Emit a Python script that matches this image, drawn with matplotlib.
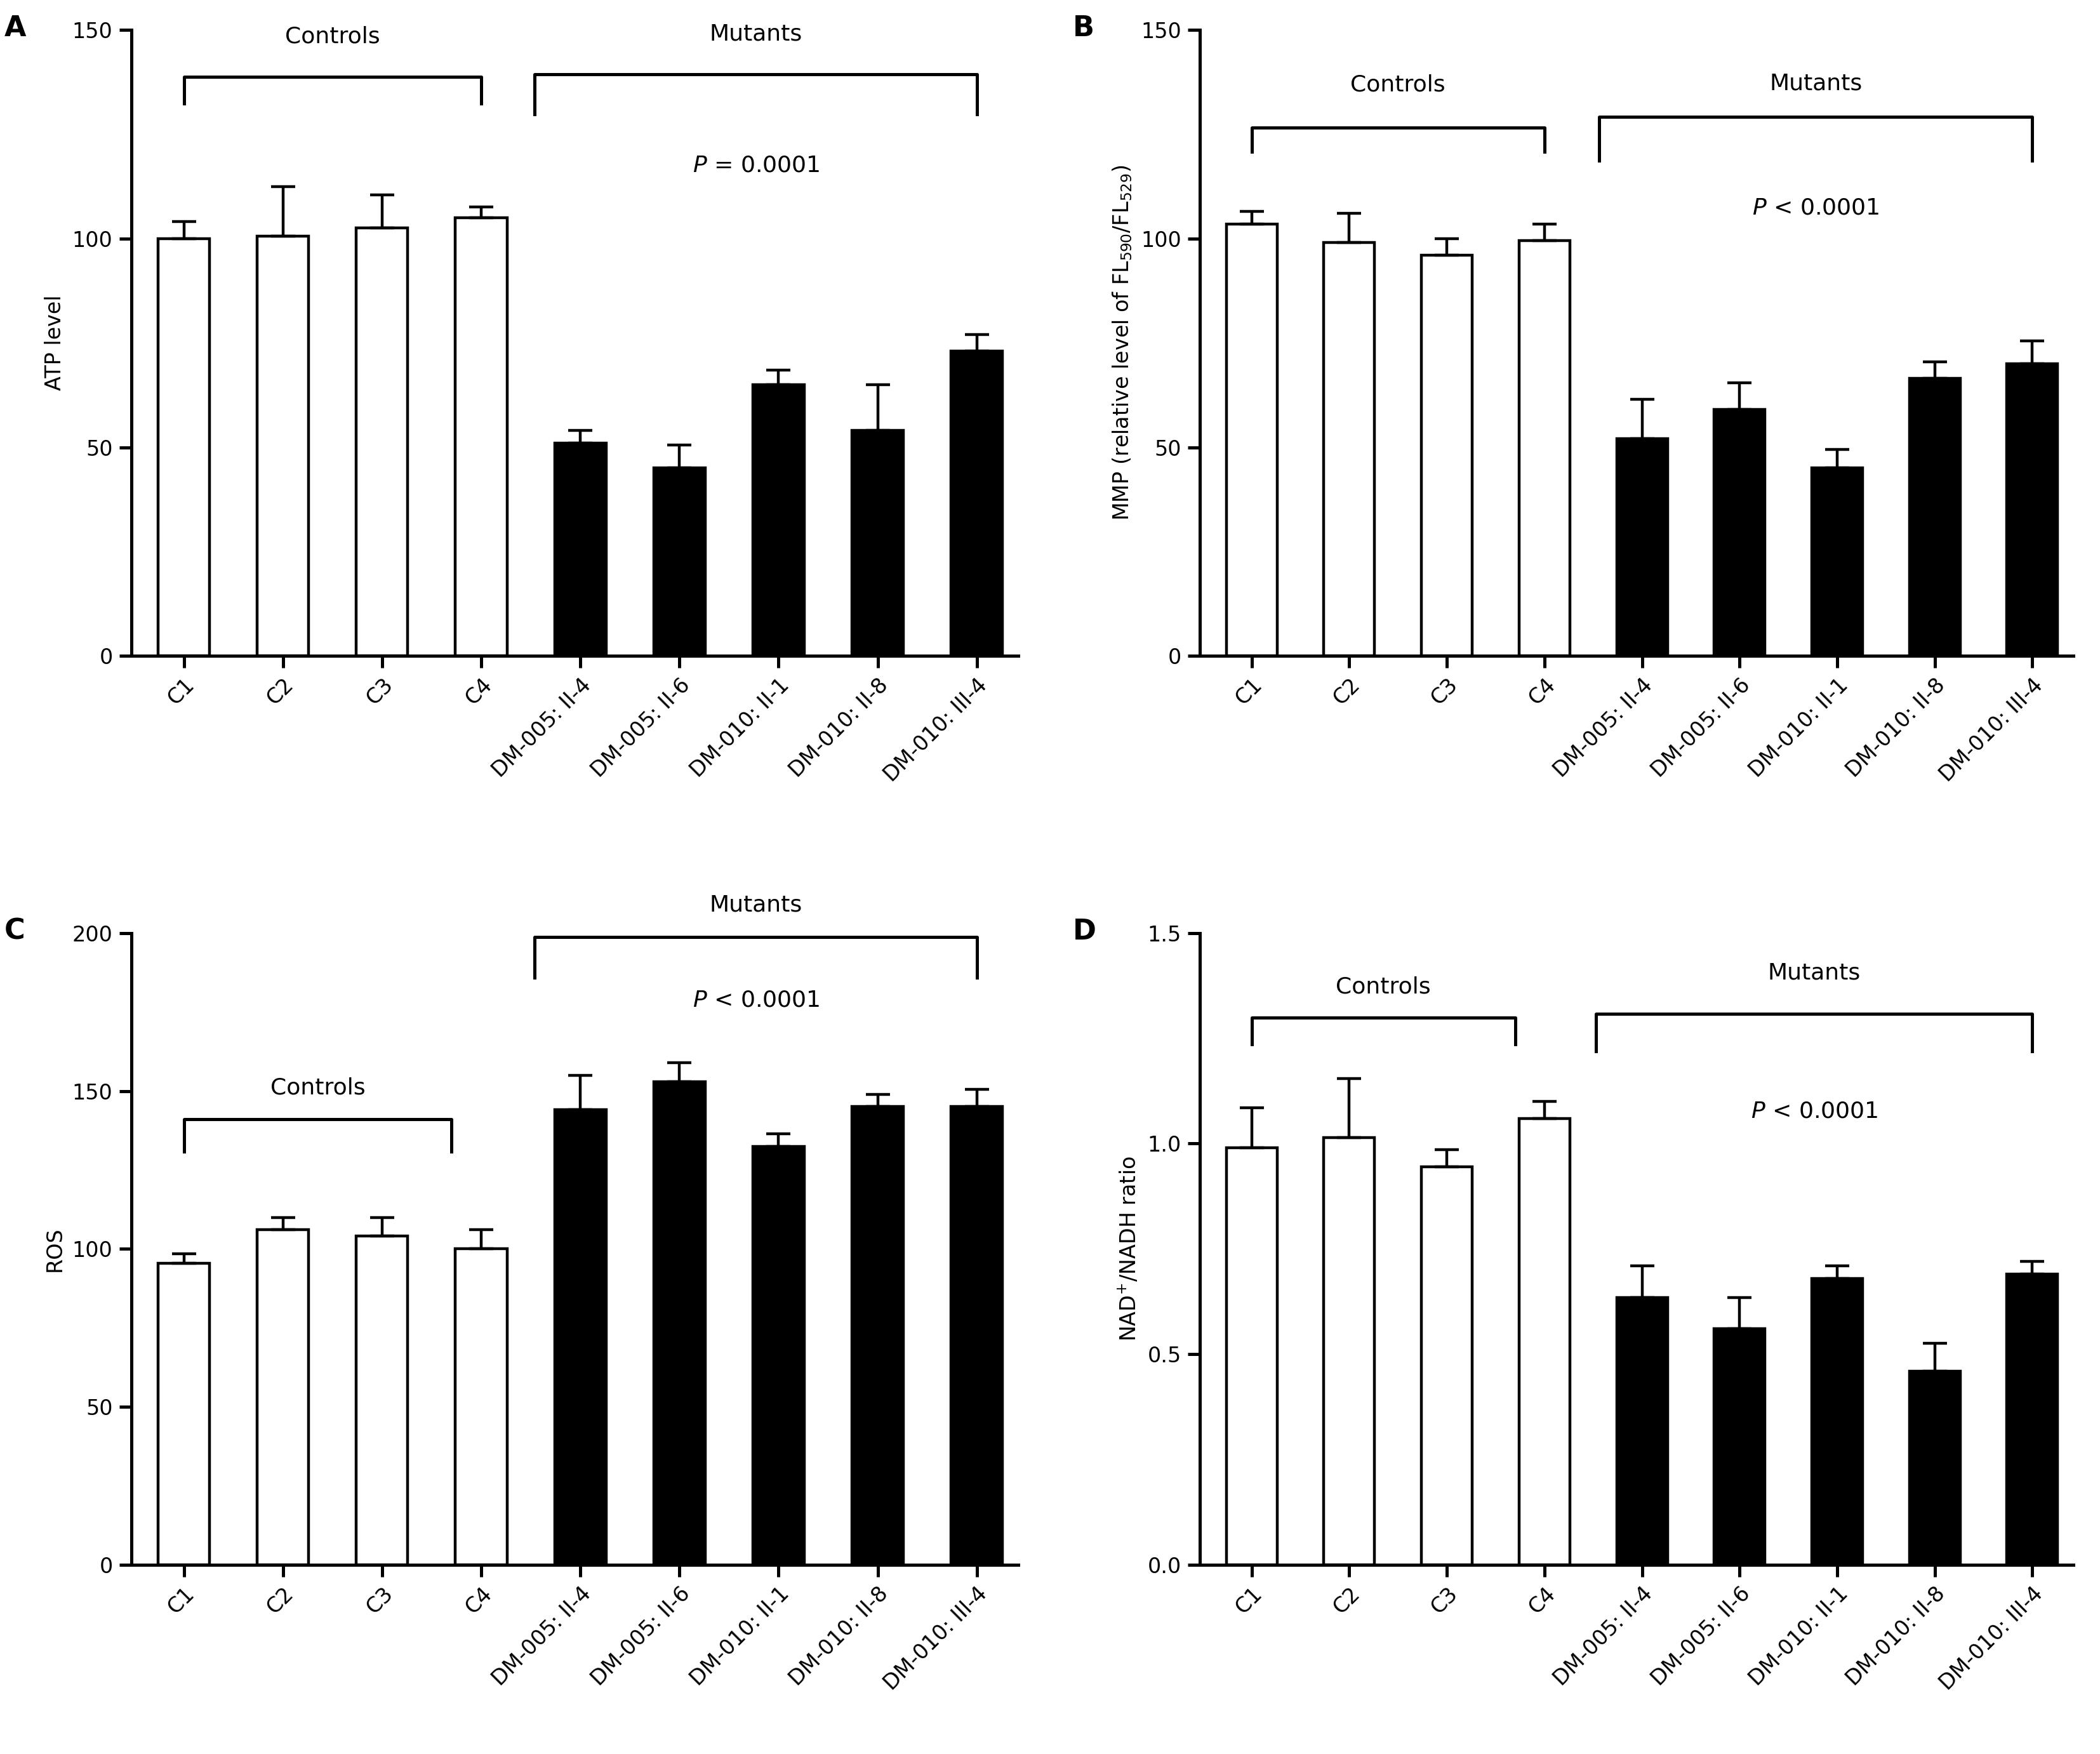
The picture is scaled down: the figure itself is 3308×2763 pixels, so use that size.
import matplotlib.pyplot as plt
import numpy as np

labels = ["C1", "C2", "C3", "C4", "DM-005: II-4", "DM-005: II-6",
          "DM-010: II-1", "DM-010: II-8", "DM-010: III-4"]
colors = ["white"] * 4 + ["black"] * 5

atp = [100, 100.5, 102.5, 105, 51, 45, 65, 54, 73]
atp_err = [4, 12, 8, 2.5, 3, 5.5, 3.5, 11, 4]
mmp = [103.5, 99, 96, 99.5, 52, 59, 45, 66.5, 70]
mmp_err = [3, 7, 4, 4, 9.5, 6.5, 4.5, 4, 5.5]
ros = [95.5, 106, 104, 100, 144, 153, 132.5, 145, 145]
ros_err = [3, 4, 6, 6, 11, 6, 4, 4, 5.5]
nad = [0.99, 1.015, 0.945, 1.06, 0.635, 0.56, 0.68, 0.46, 0.69]
nad_err = [0.095, 0.14, 0.04, 0.04, 0.075, 0.075, 0.03, 0.065, 0.03]

fig = plt.figure(figsize=(16.54, 13.815), dpi=200)
plt.rcParams['font.family'] = ['DejaVu Sans']

# (rect, values, errors, ylim, yticks, ticklabels fmt, ylabel, letter,
#  controls bracket (x0,x1,y,yend,ytext), mutants bracket, p text y, p text)
panels = [
    ([0.0625, 0.626, 0.4225, 0.357], atp, atp_err, 150, [0, 50, 100, 150], "{:.0f}",
     "ATP level", "A", (0, 3, 138.8, 132.4, 148.4), (3.54, 8, 139.4, 129.8, 149),
     117.6, "= 0.0001"),
    ([0.5714, 0.626, 0.4159, 0.357], mmp, mmp_err, 150, [0, 50, 100, 150], "{:.0f}",
     "MMP (relative level of FL$_{590}$/FL$_{529}$)", "B",
     (0, 3, 126.6, 120.8, 136.9), (3.56, 8, 129.2, 118.6, 137.2), 107.4, "< 0.0001"),
    ([0.0625, 0.108, 0.4225, 0.360], ros, ros_err, 200, [0, 50, 100, 150, 200], "{:.0f}",
     "ROS", "C", (0, 2.7, 141, 130.8, 151), (3.54, 8, 198.7, 186, 209), 178.8, "< 0.0001"),
    ([0.5714, 0.108, 0.4159, 0.360], nad, nad_err, 1.5, [0, 0.5, 1.0, 1.5], "{:.1f}",
     "NAD$^{+}$/NADH ratio", "D", (0, 2.7, 1.30, 1.236, 1.373), (3.53, 8, 1.309, 1.22, 1.405),
     1.077, "< 0.0001"),
]

x = np.arange(len(labels))
for rect, vals, errs, ymax, yt, fmt, ylab, letter, cb, mb, py, ptxt in panels:
    ax = fig.add_axes(rect)
    ax.bar(x, vals, width=0.52, color=colors, edgecolor="black", linewidth=1.6,
           yerr=[[0] * len(errs), errs], capsize=7,
           error_kw=dict(elinewidth=1.6, capthick=1.6, ecolor="black"), zorder=2)
    ax.set_xlim(-0.53, 8.42)
    ax.set_ylim(0, ymax)
    ax.set_yticks(yt)
    ax.set_yticklabels([fmt.format(v) for v in yt], fontsize=12)
    ax.set_xticks(x)
    ax.set_xticklabels(labels, rotation=45, ha="right", rotation_mode="anchor", fontsize=12)
    ax.tick_params(width=1.8, length=7)
    for s in ["top", "right"]:
        ax.spines[s].set_visible(False)
    for s in ["left", "bottom"]:
        ax.spines[s].set_linewidth(1.8)
    ax.set_ylabel(ylab, fontsize=12)
    for (x0, x1, yb, ye, ytx), name in [(cb, "Controls"), (mb, "Mutants")]:
        ax.plot([x0, x0, x1, x1], [ye, yb, yb, ye], color="black", lw=1.8, clip_on=False)
        ax.text((x0 + x1) / 2, ytx, name, ha="center", va="center", fontsize=13, clip_on=False)
    ax.text((mb[0] + mb[1]) / 2, py, "$\\it{P}$ " + ptxt, ha="center", va="center", fontsize=13)
    fig.text(rect[0] - 0.0605, rect[1] + rect[3] + 0.001, letter, fontsize=16,
             fontweight="bold", ha="left", va="center")

fig.savefig("out.png", dpi=200)
